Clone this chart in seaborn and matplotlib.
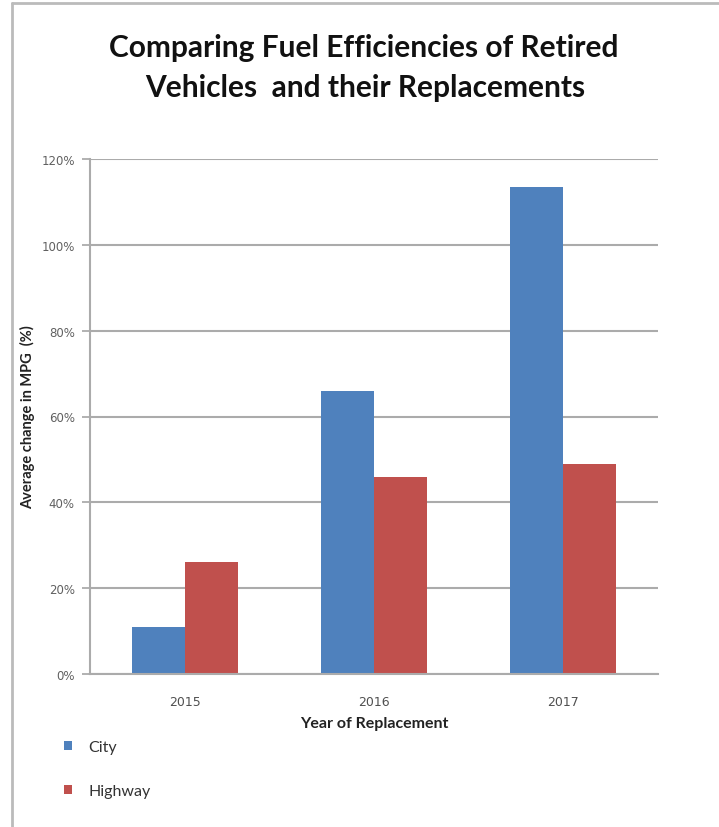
import matplotlib
matplotlib.use("Agg")
import matplotlib.pyplot as plt
from matplotlib.lines import Line2D
from matplotlib.ticker import FuncFormatter, MultipleLocator
import seaborn as sns
import pandas as pd

years = ["2015", "2016", "2017"]
series = ["City", "Highway"]
city = [11, 66, 113.5]
highway = [26, 45.8, 49]
colors = ["#4F81BD", "#C0504D"]

df = pd.DataFrame({
    "Year": years * 2,
    "Series": ["City"] * 3 + ["Highway"] * 3,
    "Value": city + highway,
})

sns.set_theme(style="white")
plt.rcParams["font.family"] = ["Lato", "DejaVu Sans"]

fig = plt.figure(figsize=(7.19, 8.28), dpi=100)
ax = fig.add_axes([90 / 719, 1 - 675 / 828, (658 - 90) / 719, (675 - 160) / 828])

sns.barplot(data=df, x="Year", y="Value", hue="Series", hue_order=series,
            palette=colors, width=0.56, dodge=True, saturation=1,
            edgecolor="none", linewidth=0, ax=ax, legend=True)

ax.set_ylim(0, 120)
ax.set_xlim(-0.5, 2.5)
ax.yaxis.set_major_locator(MultipleLocator(20))
ax.yaxis.set_major_formatter(FuncFormatter(lambda v, p: f"{int(v)}%"))
ax.grid(axis="y", color="#ababab", linewidth=1.5)
ax.set_axisbelow(True)
for s in ["top", "right"]:
    ax.spines[s].set_visible(False)
for s in ["left", "bottom"]:
    ax.spines[s].set_color("#ababab")
    ax.spines[s].set_linewidth(1.5)
ax.tick_params(axis="y", which="major", direction="out", length=6, width=1.3,
               color="#ababab", labelsize=8.5, labelcolor="#606060", pad=5, left=True)
ax.tick_params(axis="x", length=0, labelsize=9, labelcolor="#505050", pad=15)
for lab in ax.get_yticklabels() + ax.get_xticklabels():
    lab.set_family(["DejaVu Sans"])

ax.set_xlabel("Year of Replacement", fontsize=11.5, fontweight="bold", color="#222222", labelpad=6)
ax.set_ylabel("Average change in MPG  (%)", fontsize=10.5, fontweight="bold", color="#222222", labelpad=6)
ax.yaxis.set_label_coords(-0.097, 0.5)

handles, labels = ax.get_legend_handles_labels()
ax.get_legend().remove()
fig.legend(handles, labels, loc="upper left", bbox_to_anchor=(50 / 719, 1 - 727 / 828),
           frameon=False, fontsize=11.5, handlelength=0.45, handleheight=0.45,
           labelspacing=1.85, handletextpad=1.05, labelcolor="#333333")

fig.text(364 / 719, 1 - 48 / 828, "Comparing Fuel Efficiencies of Retired",
         ha="center", va="center", fontsize=21.5, fontweight="bold", color="#111111")
fig.text(365 / 719, 1 - 88 / 828, "Vehicles  and their Replacements",
         ha="center", va="center", fontsize=21.5, fontweight="bold", color="#111111")

# spreadsheet border lines
fig.add_artist(Line2D([12 / 719, 12 / 719], [0, 1 - 4 / 828], transform=fig.transFigure,
                      color="#bbbbbb", linewidth=2))
fig.add_artist(Line2D([12 / 719, 1], [1 - 4 / 828, 1 - 4 / 828], transform=fig.transFigure,
                      color="#bbbbbb", linewidth=2))

fig.savefig("out.png", dpi=100)
